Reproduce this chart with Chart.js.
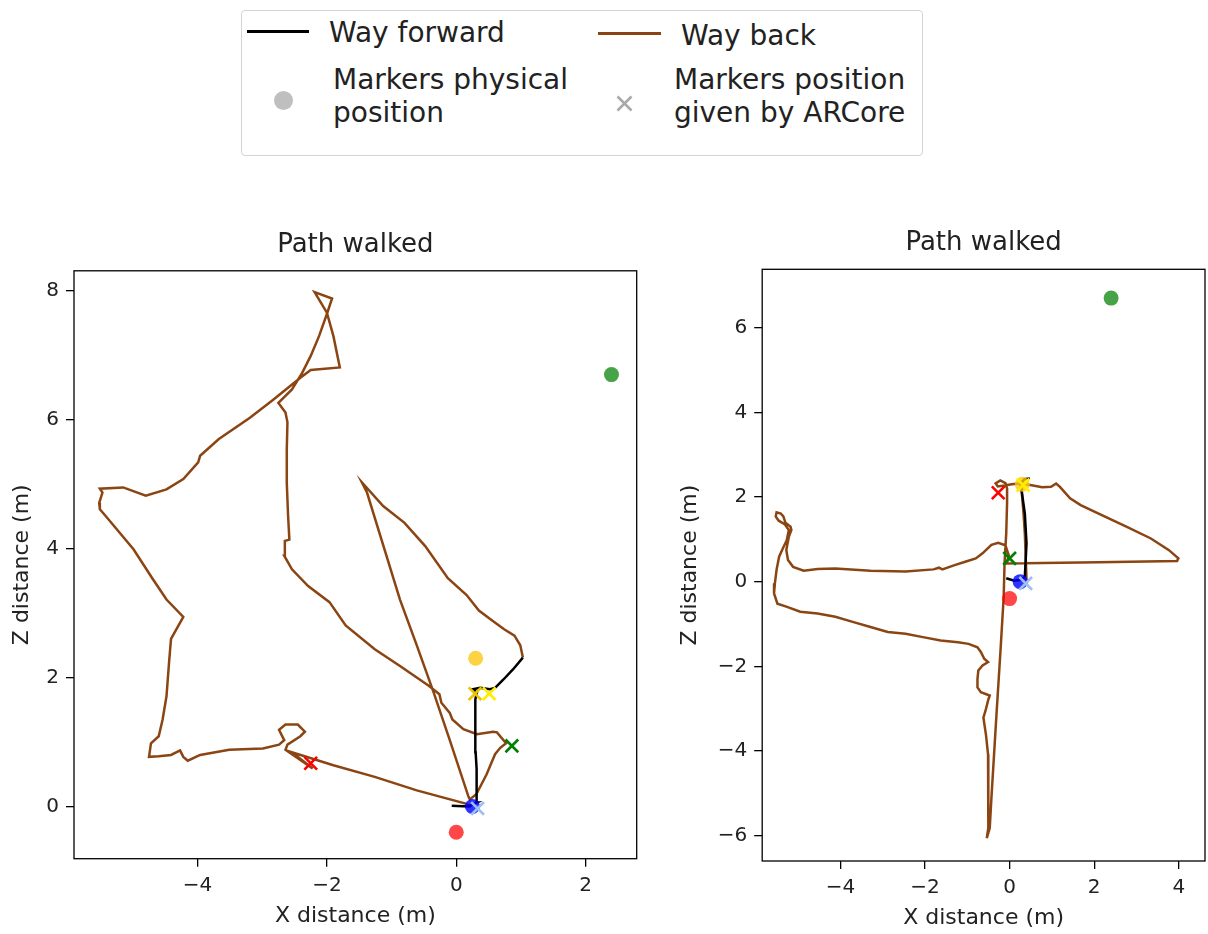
<!DOCTYPE html>
<html>
<head>
<meta charset="utf-8">
<script src="https://cdn.jsdelivr.net/npm/chart.js@4.4.1/dist/chart.umd.min.js"></script>
<style>
    html, body { margin: 0; padding: 0; background: #fff; overflow: hidden; }
    #page { position: relative; width: 1208px; height: 934px; overflow: hidden; background: #fff; font-family: 'DejaVu Sans', sans-serif; }
    canvas { position: absolute; }
    .legend-box { position: absolute; left: 241px; top: 10px; width: 682px; height: 146px; box-sizing: border-box; border: 1px solid #d4d4d4; border-radius: 4px; }
    .lg-text { position: absolute; font-size: 28px; line-height: 33px; color: #222; white-space: nowrap; }
    .lg-line { position: absolute; height: 2.7px; }
</style>
</head>
<body>
<div id="page">
    <div class="legend-box"></div>
    <div class="lg-line" style="left:247px; top:30.4px; width:62px; background:#000;"></div>
    <div class="lg-text" style="left:329px; top:15.5px;">Way forward</div>
    <div class="lg-line" style="left:598px; top:32px; width:63px; background:#8B4513;"></div>
    <div class="lg-text" style="left:681px; top:18.8px;">Way back</div>
    <div style="position:absolute; left:273.8px; top:91.2px; width:19px; height:19px; border-radius:50%; background:#bfbfbf;"></div>
    <div class="lg-text" style="left:333px; top:62.8px;">Markers physical<br>position</div>
    <svg style="position:absolute; left:616px; top:94.5px;" width="17" height="17">
        <path d="M1.5 1.5 L15.5 15.5 M15.5 1.5 L1.5 15.5" stroke="#a9a9a9" stroke-width="2.6" fill="none"/>
    </svg>
    <div class="lg-text" style="left:674px; top:62.8px;">Markers position<br>given by ARCore</div>

    <canvas id="leftChart" width="710" height="703" style="left:0px; top:226px;"></canvas>
    <canvas id="rightChart" width="632" height="705" style="left:668px; top:226px;"></canvas>
</div>

<script>
// tick labels / axis ranges
const leftXTicks = [-4, -2, 0, 2];
const leftZTicks = [0, 2, 4, 6, 8];
const rightXTicks = [-4, -2, 0, 2, 4];
const rightZTicks = [-6, -4, -2, 0, 2, 4, 6];
const leftXRange = [-5.91, 2.79];
const leftZRange = [-0.81, 8.31];
const rightXRange = [-5.85, 4.62];
const rightZRange = [-6.60, 7.38];

// markers physical position (same in both walks)
const physX = [0, 0.25, 0.3, 2.4];
const physZ = [-0.4, 0.0, 2.3, 6.7];
const physColors = ['rgba(255,0,0,0.72)', 'rgba(0,0,255,0.8)', 'rgba(253,200,20,0.8)', 'rgba(0,128,0,0.72)'];

// markers position given by ARCore
const leftArX = [-2.25, 0.29, 0.51, 0.86, 0.33];
const leftArZ = [0.67, 1.75, 1.75, 0.94, -0.03];
const leftArColors = ['#ff0000', '#eec400', '#ffee00', '#008000', '#9dbff2'];
const rightArX = [-0.27, 0.32, 0.0, 0.38];
const rightArZ = [2.10, 2.28, 0.55, -0.04];
const rightArColors = ['#ff0000', '#ffee00', '#008000', '#9dbff2'];

// left walk
const leftFwdX = [-0.07, 0.19, 0.32, 0.32, 0.31, 0.30, 0.29, 0.30, 0.32, 0.26, 0.37, 0.52, 0.60, 0.73, 0.88, 1.03];
const leftFwdZ = [0.01, 0.00, 0.06, 0.22, 0.58, 0.84, 1.35, 1.66, 1.77, 1.82, 1.84, 1.82, 1.84, 1.97, 2.13, 2.31];
const leftBackX = [1.03, 0.99, 0.90, 0.74, 0.55, 0.35, 0.16, -0.13, -0.48, -0.80, -1.13, -1.46, -1.38, -0.87, -0.61, -0.35, -0.10, 0.19, 0.21, 0.31,
    0.47, 0.60, 0.68, 0.77, 0.63, 0.57, 0.32, 0.11, -0.06, -0.10, -0.23, -0.26, -0.42, -0.87, -1.26, -1.71, -1.96, -2.29, -2.54, -2.66,
    -2.65, -2.58, -2.60, -2.62, -2.62, -2.61, -2.64, -2.75, -2.54, -2.38, -2.25, -2.12, -2.00, -1.92, -2.19, -2.00, -1.90, -1.80, -2.25, -2.41,
    -2.83, -3.19, -3.67, -3.96, -3.99, -4.22, -4.48, -4.80, -5.15, -5.51, -5.47, -5.52, -5.51, -5.44, -4.99, -4.70, -4.48, -4.22, -4.41, -4.44,
    -4.48, -4.54, -4.60, -4.72, -4.75, -4.60, -4.41, -4.27, -4.22, -4.15, -3.96, -3.51, -2.99, -2.74, -2.66, -2.74, -2.64, -2.45, -2.34, -2.41,
    -2.61, -2.64, -2.22, -2.54, -1.90, -1.26, -0.61, 0.16, 0.23];
const leftBackZ = [2.31, 2.50, 2.65, 2.75, 2.89, 3.04, 3.28, 3.54, 4.04, 4.40, 4.66, 5.03, 4.87, 3.21, 2.50, 1.77, 1.03, 0.15, 0.11, 0.19,
    0.50, 0.81, 0.91, 0.98, 1.15, 1.16, 1.12, 1.20, 1.35, 1.45, 1.61, 1.74, 1.87, 2.18, 2.44, 2.81, 3.17, 3.42, 3.68, 3.89,
    4.12, 4.14, 4.51, 5.02, 5.54, 5.96, 6.11, 6.26, 6.47, 6.73, 6.99, 7.30, 7.64, 7.88, 7.98, 7.66, 7.30, 6.81, 6.77, 6.65,
    6.31, 6.03, 5.70, 5.44, 5.34, 5.08, 4.92, 4.82, 4.95, 4.93, 4.87, 4.71, 4.61, 4.53, 3.99, 3.54, 3.21, 2.94, 2.60, 2.24,
    1.71, 1.35, 1.09, 0.98, 0.77, 0.78, 0.80, 0.87, 0.77, 0.71, 0.80, 0.88, 0.90, 0.96, 1.03, 1.19, 1.27, 1.27, 1.16, 1.09,
    0.96, 0.88, 0.59, 0.84, 0.64, 0.46, 0.25, 0.04, -0.01];

// right walk
const rightFwdX = [-0.08, 0.11, 0.30, 0.36, 0.40, 0.36, 0.26, 0.35, 0.48];
const rightFwdZ = [0.08, 0.02, 0.05, 0.12, 0.91, 1.61, 2.32, 2.42, 2.44];
const rightBackX = [0.27, 0.52, 0.77, 0.98, 1.10, 1.19, 1.43, 1.68, 2.18, 2.76, 3.34, 3.76, 3.99, 3.96, 2.10, -0.07, -0.02, -0.10, -0.27, -0.43,
    -0.64, -0.80, -1.05, -1.30, -1.59, -1.67, -1.80, -2.46, -3.29, -4.12, -4.54, -4.87, -5.12, -5.24, -5.28, -5.22, -5.16, -5.18, -5.30, -5.35,
    -5.41, -5.51, -5.53, -5.46, -5.32, -5.22, -5.27, -5.36, -5.45, -5.51, -5.55, -5.57, -5.49, -5.28, -4.95, -4.54, -4.12, -3.71, -3.29, -2.88,
    -2.46, -2.05, -1.63, -1.22, -0.97, -0.76, -0.68, -0.60, -0.51, -0.64, -0.74, -0.76, -0.76, -0.68, -0.47, -0.51, -0.57, -0.62, -0.56, -0.51,
    -0.51, -0.49, -0.51, -0.54, -0.47, -0.43, -0.31, -0.21, -0.14, -0.12, -0.08, -0.06, -0.06, -0.10, -0.22, -0.33, -0.28, -0.12, 0.05, 0.27,
    0.29, 0.33, 0.36, 0.38, 0.40, 0.33];
const rightBackZ = [2.32, 2.28, 2.23, 2.24, 2.32, 2.24, 1.97, 1.81, 1.57, 1.30, 1.02, 0.75, 0.55, 0.49, 0.46, 0.43, 0.62, 0.86, 0.92, 0.87,
    0.67, 0.55, 0.47, 0.39, 0.29, 0.33, 0.29, 0.24, 0.26, 0.31, 0.30, 0.26, 0.35, 0.51, 0.75, 1.06, 1.22, 1.30, 1.39, 1.54,
    1.61, 1.64, 1.54, 1.44, 1.36, 1.22, 0.98, 0.79, 0.59, 0.28, -0.04, -0.28, -0.52, -0.59, -0.71, -0.75, -0.83, -0.95, -1.07, -1.19,
    -1.23, -1.31, -1.39, -1.43, -1.47, -1.55, -1.66, -1.82, -1.90, -1.98, -2.10, -2.30, -2.50, -2.61, -2.69, -2.81, -3.05, -3.21, -3.61, -4.08,
    -4.71, -5.35, -5.82, -6.06, -5.82, -5.11, -3.13, -1.54, -0.36, 0.43, 1.14, 1.85, 2.20, 2.33, 2.39, 2.32, 2.25, 2.27, 2.30, 2.32,
    2.09, 1.60, 1.14, 0.60, 0.04, 0.00];

const fontFamily = "'DejaVu Sans', sans-serif";
const textColor = '#222';

function pts(xs, zs) {
    return xs.map((x, i) => ({ x: x, y: zs[i] }));
}

function fmtTick(v) {
    return v < 0 ? '\u2212' + Math.abs(v) : String(v);
}

// box round the axes + title centred over the plot area
const frameBox = {
    id: 'frameBox',
    afterDatasetsDraw(chart) {
        let a = chart.chartArea;
        let ctx = chart.ctx;
        ctx.save();
        ctx.strokeStyle = '#000';
        ctx.lineWidth = 1.3;
        ctx.strokeRect(a.left, a.top, a.right - a.left, a.bottom - a.top);
        ctx.restore();
    },
    afterDraw(chart) {
        let a = chart.chartArea;
        let ctx = chart.ctx;
        ctx.save();
        ctx.fillStyle = textColor;
        ctx.font = '26px ' + fontFamily;
        ctx.textAlign = 'center';
        ctx.textBaseline = 'alphabetic';
        ctx.fillText('Path walked', (a.left + a.right) / 2, a.top - 19);
        ctx.restore();
    }
};

function makeDatasets(arX, arZ, arColors, fwdX, fwdZ, backX, backZ) {
    return [
        {
            data: pts(arX, arZ),
            showLine: false,
            pointStyle: 'crossRot',
            pointRadius: 9,
            pointBorderWidth: 2.6,
            pointBorderColor: arColors,
            pointBackgroundColor: arColors,
            order: 0
        },
        {
            data: pts(physX, physZ),
            showLine: false,
            pointStyle: 'circle',
            pointRadius: 7.5,
            pointBorderWidth: 0,
            pointBackgroundColor: physColors,
            pointBorderColor: physColors,
            order: 1
        },
        {
            data: pts(fwdX, fwdZ),
            showLine: true,
            borderColor: '#000',
            borderWidth: 2.5,
            pointRadius: 0,
            tension: 0,
            order: 2
        },
        {
            data: pts(backX, backZ),
            showLine: true,
            borderColor: '#8B4513',
            borderWidth: 2.5,
            pointRadius: 0,
            tension: 0,
            order: 3
        }
    ];
}

function makeAxis(range, ticks, title, size, titlePad, horizontal) {
    return {
        type: 'linear',
        position: horizontal ? 'bottom' : 'left',
        min: range[0],
        max: range[1],
        afterBuildTicks: (scale) => { scale.ticks = ticks.map(v => ({ value: v })); },
        afterFit: (scale) => {
            if (horizontal) { scale.height = size; } else { scale.width = size; }
        },
        grid: { display: true, drawOnChartArea: false, drawTicks: true, tickLength: 8, color: '#000', lineWidth: 1.3 },
        border: { display: false },
        ticks: { color: textColor, font: { family: fontFamily, size: 20 }, padding: 7, autoSkip: false, maxRotation: 0, callback: fmtTick },
        title: { display: true, text: title, color: textColor, font: { family: fontFamily, size: 22 }, padding: titlePad }
    };
}

function makeChart(id, p) {
    let ctx = document.getElementById(id).getContext('2d');
    return new Chart(ctx, {
        type: 'scatter',
        data: { datasets: p.datasets },
        options: {
            responsive: false,
            animation: false,
            devicePixelRatio: 1,
            events: [],
            layout: { padding: { left: 0, right: p.padRight, top: p.padTop, bottom: 0 } },
            plugins: {
                legend: { display: false },
                tooltip: { enabled: false },
                title: { display: false }
            },
            scales: {
                x: makeAxis(p.xRange, p.xTicks, 'X distance (m)', p.xAxisHeight, { top: 0, bottom: p.xTitlePad }, true),
                y: makeAxis(p.zRange, p.zTicks, 'Z distance (m)', p.yAxisWidth, { top: p.yTitlePad, bottom: 0 }, false)
            }
        },
        plugins: [frameBox]
    });
}

makeChart('leftChart', {
    datasets: makeDatasets(leftArX, leftArZ, leftArColors, leftFwdX, leftFwdZ, leftBackX, leftBackZ),
    xRange: leftXRange, zRange: leftZRange, xTicks: leftXTicks, zTicks: leftZTicks,
    padRight: 73.3, padTop: 44.8, xAxisHeight: 70.3, yAxisWidth: 74, xTitlePad: 0, yTitlePad: 9
});

makeChart('rightChart', {
    datasets: makeDatasets(rightArX, rightArZ, rightArColors, rightFwdX, rightFwdZ, rightBackX, rightBackZ),
    xRange: rightXRange, zRange: rightZRange, xTicks: rightXTicks, zTicks: rightZTicks,
    padRight: 95, padTop: 43.3, xAxisHeight: 70, yAxisWidth: 94.2, xTitlePad: 0, yTitlePad: 9.5
});
</script>
</body>
</html>
